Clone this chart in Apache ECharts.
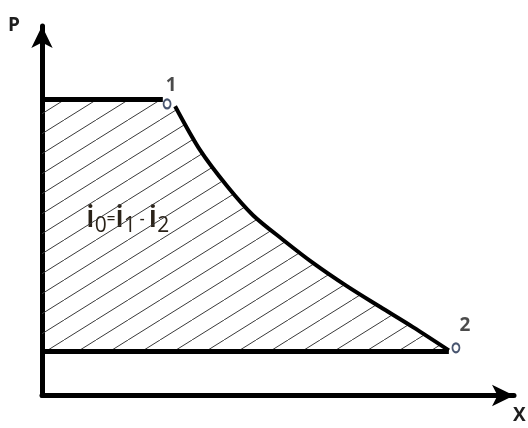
<!DOCTYPE html>
<html>
<head>
<meta charset="utf-8">
<title>P-X</title>
<script src="https://cdn.jsdelivr.net/npm/echarts@6/dist/echarts.min.js"></script>
<style>
    html, body { margin: 0; padding: 0; background: #fff; }
    #main { width: 528px; height: 428px; }
</style>
</head>
<body>
<div id="main"></div>
<script>
// 数据
var topX = [0, 2.56];
var topP = [8.01, 8.01];
var curveX = [2.82, 3.35, 3.92, 4.47, 5.11, 5.74, 6.46, 7.16, 7.86, 8.62];
var curveP = [7.83, 6.64, 5.67, 4.88, 4.21, 3.59, 2.96, 2.40, 1.85, 1.22];
var bottomX = [0, 8.62];
var bottomP = [1.19, 1.19];
var pointNames = ['1', '2'];
var pointX = [2.65, 8.77];
var pointP = [7.89, 1.29];

function pairs(xs, ys) {
    return xs.map(function (x, i) { return [x, ys[i]]; });
}

var topData = pairs(topX, topP);
var curveData = pairs(curveX, curveP);
var bottomData = pairs(bottomX, bottomP);
var areaData = topData.concat(curveData);
var pointData = pointX.map(function (x, i) {
    return { name: pointNames[i], value: [x, pointP[i]] };
});

// 斜线填充
var hatch = document.createElement('canvas');
hatch.width = 32;
hatch.height = 20;
var ctx = hatch.getContext('2d');
ctx.strokeStyle = '#3a3a3a';
ctx.lineWidth = 1;
ctx.beginPath();
ctx.moveTo(-3.2, 22);
ctx.lineTo(35.2, -2);
ctx.stroke();

var myChart = echarts.init(document.getElementById('main'));

var axisLine = {
    show: true,
    symbol: ['none', 'arrow'],
    symbolSize: [16, 22],
    lineStyle: { color: '#000', width: 5 }
};

// 轴名称
var nameRich = {
    a: { fontSize: 19, fontFamily: 'Open Sans', fontWeight: 'bold', fill: '#1e1e1e' }
};

var option = {
    animation: false,
    grid: { left: 42, right: 14, top: 26, bottom: 32.5 },
    xAxis: {
        type: 'value', min: 0, max: 10,
        axisLine: axisLine,
        axisTick: { show: false }, axisLabel: { show: false }, splitLine: { show: false }
    },
    yAxis: {
        type: 'value', min: 0, max: 10,
        axisLine: axisLine,
        axisTick: { show: false }, axisLabel: { show: false }, splitLine: { show: false }
    },
    graphic: [
        { type: 'text', left: 8, top: 16, style: { text: '{a|P}', rich: nameRich } },
        { type: 'text', left: 513, top: 406, style: { text: '{a|X}', rich: nameRich } },
        {
            type: 'text', left: 86, top: 203,
            style: {
                text: '{m|i}{s|0}{o|=}{m|i}{s|1}{o| - }{m|i}{s|2}',
                fill: '#2a2218',
                rich: {
                    m: { fontSize: 31, fontFamily: 'Open Sans', fontWeight: 600, lineHeight: 36, fill: '#2a2218' },
                    s: { fontSize: 21, fontFamily: 'Open Sans', lineHeight: 19, verticalAlign: 'bottom', fill: '#2a2218' },
                    o: { fontSize: 15, fontFamily: 'Open Sans', fontWeight: 600, fill: '#2a2218' }
                }
            }
        }
    ],
    series: [
        {
            type: 'line',
            data: areaData,
            showSymbol: false,
            lineStyle: { width: 0 },
            areaStyle: { color: { image: hatch, repeat: 'repeat' }, opacity: 1, origin: 1.19 },
            z: 1
        },
        {
            type: 'line', data: topData, showSymbol: false,
            lineStyle: { color: '#000', width: 5 }, z: 3
        },
        {
            type: 'line', data: curveData, showSymbol: false, smooth: 0.3,
            lineStyle: { color: '#000', width: 4 }, z: 3
        },
        {
            type: 'line', data: bottomData, showSymbol: false,
            lineStyle: { color: '#000', width: 5 }, z: 3
        },
        {
            type: 'scatter',
            data: pointData,
            symbol: 'emptyCircle',
            symbolSize: [7, 9],
            itemStyle: { color: '#1c2c4c', borderColor: '#1c2c4c', borderWidth: 2 },
            label: {
                show: true,
                formatter: '{b}',
                position: 'top',
                fontSize: 19,
                fontFamily: 'Open Sans',
                fontWeight: 'bold',
                color: '#1e1e1e'
            },
            labelLayout: function (params) {
                return params.dataIndex === 0 ? { dx: 4, dy: 2 } : { dx: 9, dy: -2 };
            },
            z: 4
        }
    ]
};

myChart.setOption(option);
</script>
</body>
</html>
